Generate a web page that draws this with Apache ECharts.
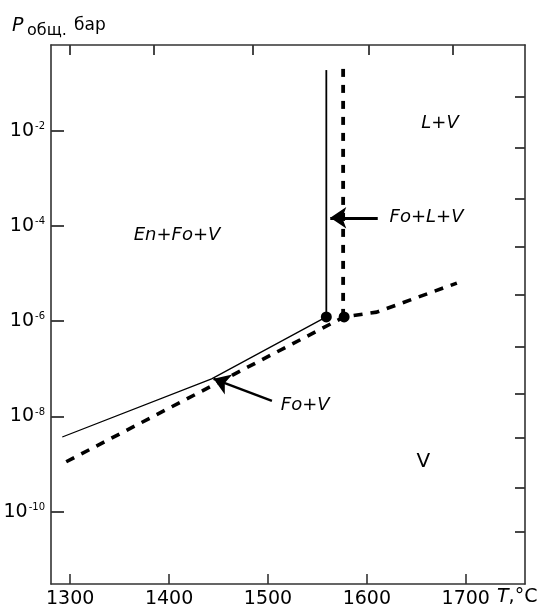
<!DOCTYPE html>
<html><head><meta charset="utf-8">
<script src="https://cdn.jsdelivr.net/npm/echarts@6/dist/echarts.min.js"></script>
<style>html,body{margin:0;padding:0;background:#fff}#c{width:539px;height:610px}</style>
</head><body><div id="c"></div>
<script>
// Temperatures (°C) and log10 of total pressure (bar)
const xTicks = [1300, 1400, 1500, 1600, 1700];
const topTicks = [1300, 1385, 1485, 1602, 1687];
const yLabelExps = [-10, -8, -6, -4, -2];
const rightTicks = [-1.3, -2.36, -3.43, -4.44, -5.45, -6.54, -7.53, -8.45, -9.5, -10.42];

const solidSlopeT = [1292, 1443, 1559];
const solidSlopeLogP = [-8.43, -7.21, -5.91];
const solidVertT = [1559, 1559];
const solidVertLogP = [-5.91, -0.73];

const dashSlopeT = [1296, 1577, 1610, 1691];
const dashSlopeLogP = [-8.95, -5.91, -5.81, -5.20];
const dashVertT = [1576, 1576];
const dashVertLogP = [-5.91, -0.62];

const dotT = [1559, 1577];
const dotLogP = [-5.91, -5.91];

const arrowFoLV = [[1611, -3.83], [1563, -3.83]];
const arrowFoV = [[1504, -7.67], [1445, -7.21]];

const regionNames = ['L+V', 'En+Fo+V', 'V'];
const regionT = [1674, 1408, 1657];
const regionLogP = [-1.84, -4.19, -8.95];
const pointerNames = ['Fo+L+V', 'Fo+V'];
const pointerT = [1623, 1513];
const pointerLogP = [-3.83, -7.76];

const zip = (a, b) => a.map((v, i) => [v, b[i]]);
const FONT = 'DejaVu Sans';
const INK = '#000';
const AX = '#333';

const chart = echarts.init(document.getElementById('c'), null, {renderer: 'canvas'});
chart.setOption({
  animation: false,
  backgroundColor: '#fff',
  grid: {left: 51, top: 45, right: 14, bottom: 26, containLabel: false},
  xAxis: [{
    type: 'value', position: 'bottom', min: 1280.6, max: 1759.9,
    axisLine: {show: true, lineStyle: {color: AX, width: 1.6}},
    axisTick: {show: true, inside: true, length: 10, customValues: xTicks, lineStyle: {color: AX, width: 1.6}},
    axisLabel: {show: true, customValues: xTicks, margin: 6, color: INK, fontFamily: FONT, fontSize: 19,
      formatter: v => String(v)},
    splitLine: {show: false}
  }, {
    type: 'value', position: 'top', min: 1280.6, max: 1759.9,
    axisLine: {show: true, lineStyle: {color: AX, width: 1.6}},
    axisTick: {show: true, inside: true, length: 10, customValues: topTicks, lineStyle: {color: AX, width: 1.8}},
    axisLabel: {show: false},
    splitLine: {show: false}
  }],
  yAxis: [{
    type: 'value', position: 'left', min: -11.515, max: -0.204,
    axisLine: {show: true, lineStyle: {color: AX, width: 1.6}},
    axisTick: {show: true, inside: true, length: 13, customValues: yLabelExps, lineStyle: {color: AX, width: 1.8}},
    axisLabel: {
      show: true, customValues: yLabelExps, margin: 6, color: INK,
      formatter: v => '{d|10}{s|' + v + '}',
      rich: {
        d: {fontFamily: FONT, fontSize: 19, color: INK},
        s: {fontFamily: FONT, fontSize: 10, verticalAlign: 'top', color: INK, padding: [0, 0, 8, 1]}
      }
    },
    splitLine: {show: false}
  }, {
    type: 'value', position: 'right', min: -11.515, max: -0.204,
    axisLine: {show: true, lineStyle: {color: AX, width: 1.6}},
    axisTick: {show: true, inside: true, length: 10, customValues: rightTicks, lineStyle: {color: AX, width: 1.8}},
    axisLabel: {show: false},
    splitLine: {show: false}
  }],
  series: [
    {type: 'line', data: zip(solidSlopeT, solidSlopeLogP), symbol: 'none',
     lineStyle: {color: INK, width: 1.3}},
    {type: 'line', data: zip(solidVertT, solidVertLogP), symbol: 'none',
     lineStyle: {color: INK, width: 1.8}},
    {type: 'line', data: zip(dashSlopeT, dashSlopeLogP), symbol: 'none',
     lineStyle: {color: INK, width: 3.6, type: [9, 8], cap: 'butt'}},
    {type: 'line', data: zip(dashVertT, dashVertLogP), symbol: 'none',
     lineStyle: {color: INK, width: 3.8, type: [8, 8], cap: 'butt'}},
    {type: 'lines', coordinateSystem: 'cartesian2d',
     symbol: ['none', 'arrow'], symbolSize: [12, 16],
     lineStyle: {color: INK, width: 2.8, opacity: 1},
     data: [{coords: arrowFoLV}, {coords: arrowFoV, lineStyle: {width: 2.4}}]},
    {type: 'scatter', data: zip(dotT, dotLogP), symbol: 'circle', symbolSize: 11,
     itemStyle: {color: INK, opacity: 1}, z: 5},
    {type: 'scatter', symbolSize: 0, itemStyle: {opacity: 1},
     data: regionNames.map((n, i) => n === 'V'
       ? {value: [regionT[i], regionLogP[i], n], label: {fontStyle: 'normal', fontSize: 20}}
       : [regionT[i], regionLogP[i], n]),
     label: {show: true, position: 'inside', color: INK, fontFamily: FONT,
       fontStyle: 'italic', fontSize: 18, formatter: p => p.value[2]}},
    {type: 'scatter', symbolSize: 0, itemStyle: {opacity: 1},
     data: pointerNames.map((n, i) => [pointerT[i], pointerLogP[i], n]),
     label: {show: true, position: 'right', distance: 0, color: INK, fontFamily: FONT,
       fontStyle: 'italic', fontSize: 18, formatter: p => p.value[2]}}
  ],
  graphic: [
    {type: 'text', left: 12, top: 17, style: {text: 'P', font: 'italic 19px "DejaVu Sans"', fill: INK}},
    {type: 'text', left: 27, top: 23, style: {text: 'общ.', font: '16px "DejaVu Sans"', fill: INK}},
    {type: 'text', left: 74, top: 17, style: {text: 'бар', font: '17px "DejaVu Sans"', fill: INK}},
    {type: 'text', left: 497, top: 588, style: {
      text: '{i|T},{n|°C}',
      rich: {i: {fontFamily: FONT, fontStyle: 'italic', fontSize: 19, fill: INK},
             n: {fontFamily: FONT, fontSize: 19, fill: INK}}, fill: INK, font: '19px "DejaVu Sans"'}}
  ]
});
</script></body></html>
